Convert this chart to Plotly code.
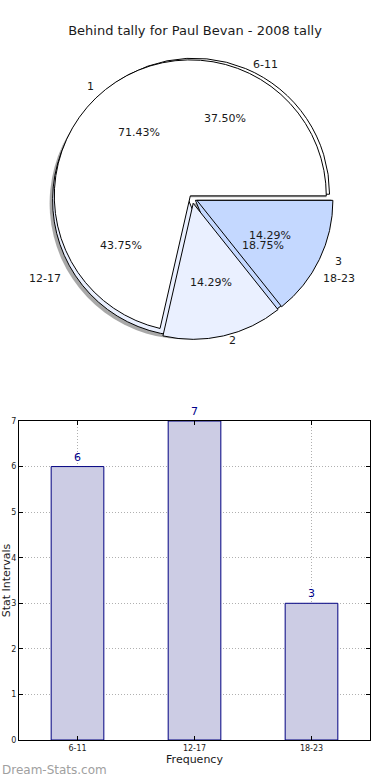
import numpy as np
import plotly.graph_objects as go

chart_title = "Behind tally for Paul Bevan - 2008 tally"
inner_labels = ["1", "2", "3"]
inner_values = [5, 1, 1]
outer_labels = ["6-11", "12-17", "18-23"]
outer_values = [6, 7, 3]
bar_categories = ["6-11", "12-17", "18-23"]
bar_values = [6, 7, 3]
y_ticks = [0, 1, 2, 3, 4, 5, 6, 7]

slice_colors = ["#ffffff", "#eaf0ff", "#c4d8ff"]
inner_pull = [0.02, 0.04, 0.04]
outer_pull = [0.03, 0.03, 0.03]

W, H = 390, 780
ML, MR, MT, MB = 19, 20, 0, 40
PW, PH = W - ML - MR, H - MT - MB
FONT = "DejaVu Sans"

# pie geometry in pixels
PCX, PCY, R = 192, 198, 136
LABEL_SX, LABEL_SY = 1.01, 0.94   # reference pie is slightly elliptical


def to_paper(x, y):
    return (x - ML) / PW, (H - MB - y) / PH


def pie_domain(maxpull, dx=0, dy=0):
    half = R * (1 + maxpull)
    x0, y0 = to_paper(PCX - half + dx, PCY + half + dy)
    x1, y1 = to_paper(PCX + half + dx, PCY - half + dy)
    return dict(x=[x0, x1], y=[y0, y1])


def start_rotation(values):
    # plotly counterclockwise pies end their first slice at `rotation`;
    # shift so the first slice starts at 3 o'clock (matplotlib default)
    return 90 - values[0] / sum(values) * 360


def slice_positions(values, pulls, dist, sx=1.0, sy=1.0):
    v = np.array(values, dtype=float)
    cum = np.concatenate([[0], np.cumsum(v)]) / v.sum() * 360
    mids = np.radians((cum[:-1] + cum[1:]) / 2)
    out = []
    for m, p in zip(mids, pulls):
        c, s = np.cos(m), np.sin(m)
        r = p * R + dist * R
        out.append((PCX + r * c * sx, PCY - r * s * sy, c))
    return out


def make_pie(values, labels, pulls, colors, line, domain, **kw):
    return go.Pie(values=values, labels=labels, sort=False, direction="counterclockwise",
                  rotation=start_rotation(values), textinfo="none", showlegend=False,
                  marker=dict(colors=colors, line=line), pull=pulls, domain=domain, **kw)


fig = go.Figure()

# shadow
fig.add_trace(make_pie(outer_values, outer_labels, outer_pull, ["#8c8c8c"] * 3, dict(width=0),
                       pie_domain(max(outer_pull), -3, 3), opacity=0.75, hoverinfo="skip"))
fig.add_trace(make_pie(outer_values, outer_labels, outer_pull, slice_colors,
                       dict(color="#000000", width=1), pie_domain(max(outer_pull))))
fig.add_trace(make_pie(inner_values, inner_labels, inner_pull, slice_colors,
                       dict(color="#000000", width=1), pie_domain(max(inner_pull))))

fig.add_trace(go.Bar(
    x=bar_categories, y=bar_values, width=0.45,
    marker=dict(color="#cccce4", line=dict(color="#000080", width=1)),
    text=[str(v) for v in bar_values], textposition="outside", cliponaxis=False,
    textfont=dict(color="#00008b", size=11, family=FONT), showlegend=False,
    xaxis="x", yaxis="y"))

annotations = []
pie_sets = [(inner_values, inner_labels, inner_pull), (outer_values, outer_labels, outer_pull)]
for values, labels, pulls in pie_sets:
    total = sum(values)
    for (x, y, c), v in zip(slice_positions(values, pulls, 0.6), values):
        px, py = to_paper(x, y)
        annotations.append(dict(x=px, y=py, xref="paper", yref="paper", showarrow=False,
                                text="%.2f%%" % (100 * v / total), xanchor="center", yanchor="middle",
                                font=dict(size=11, color="#1a1a1a", family=FONT)))
    for (x, y, c), lab in zip(slice_positions(values, pulls, 1.1, LABEL_SX, LABEL_SY), labels):
        px, py = to_paper(x, y)
        annotations.append(dict(x=px, y=py, xref="paper", yref="paper", showarrow=False,
                                text=lab, xanchor="left" if c > 0 else "right", yanchor="middle",
                                font=dict(size=11, color="#1a1a1a", family=FONT)))

wx, wy = to_paper(0, 770)
annotations.append(dict(x=wx, y=wy, xref="paper", yref="paper", showarrow=False,
                        text="Dream-Stats.com", xanchor="left", yanchor="middle",
                        font=dict(size=12, color="#a0a0a0", family=FONT)))

bar_top = to_paper(0, 421)[1]

axis_common = dict(showline=True, mirror="ticks", linecolor="black", linewidth=1,
                   ticks="inside", ticklen=4, tickcolor="black", automargin=False,
                   showgrid=True, gridcolor="#b0b0b0", griddash="1px,2px", gridwidth=1,
                   tickfont=dict(size=8, family=FONT, color="#1a1a1a"), zeroline=False)

fig.update_layout(
    width=W, height=H, margin=dict(l=ML, r=MR, t=MT, b=MB, autoexpand=False),
    paper_bgcolor="white", plot_bgcolor="white",
    font=dict(family=FONT, color="#1a1a1a"),
    title=dict(text=chart_title, x=0.5, xanchor="center", y=(H - 30) / H, yanchor="middle",
               yref="container", xref="container", font=dict(size=13, family=FONT, color="#1a1a1a")),
    annotations=annotations,
    xaxis=dict(domain=[0, 1], type="category", range=[-0.5, 2.5], **axis_common,
               title=dict(text="Frequency", font=dict(size=11, family=FONT), standoff=2)),
    yaxis=dict(domain=[0, bar_top], range=[0, 7], tickvals=y_ticks, **axis_common,
               title=dict(text="Stat Intervals", font=dict(size=11, family=FONT), standoff=6)),
)

fig.write_html("out.html", config={"displayModeBar": False},
               post_script="document.body.style.margin='0';document.body.style.overflow='hidden';")
